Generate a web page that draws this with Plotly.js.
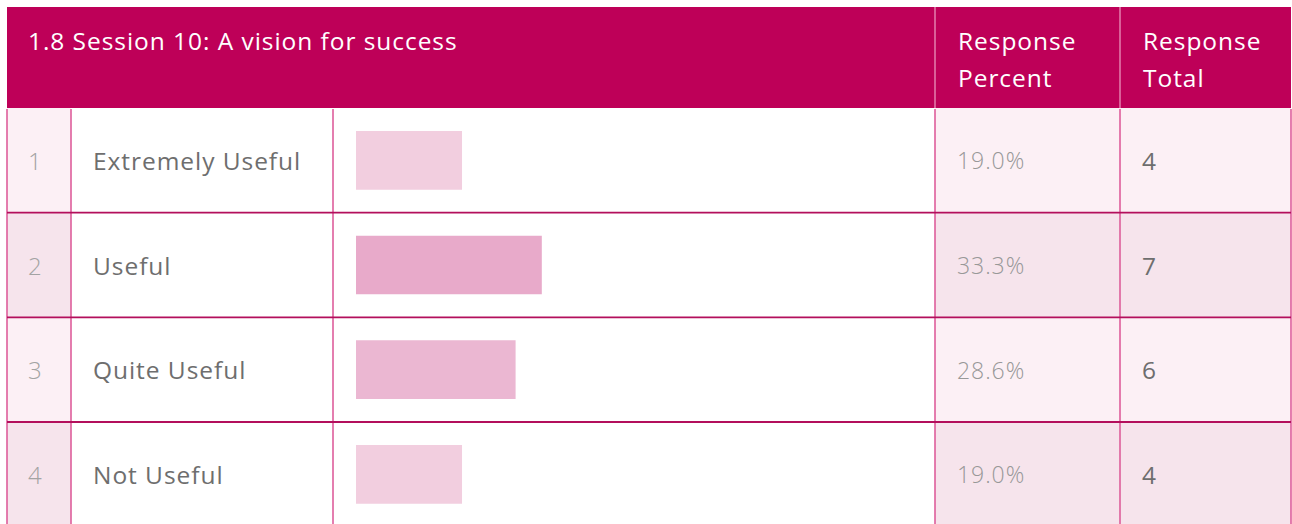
<!DOCTYPE html>
<html>
<head>
<meta charset="utf-8">
<script src="https://cdn.plot.ly/plotly-3.0.1.min.js"></script>
<style>
  html, body { margin: 0; padding: 0; background: #ffffff; }
  #chart { width: 1292px; height: 524px; }
  #chart .annotation-text { letter-spacing: 0.95px; }
</style>
</head>
<body>
<div id="chart"></div>
<script>
// ---- data ----
const title = "1.8 Session 10: A vision for success";
const rowNumbers = ["1", "2", "3", "4"];
const categories = ["Extremely Useful", "Useful", "Quite Useful", "Not Useful"];
const percents = [19.0, 33.3, 28.6, 19.0];
const totals = [4, 7, 6, 4];
const headerPercent = ["Response", "Percent"];
const headerTotal = ["Response", "Total"];
const barColors = ["#F2CEDF", "#E8AACA", "#EBB7D2", "#F2CEDF"];

// ---- layout helpers (pixel -> paper) ----
const W = 1292, H = 524;
const px = p => p / W;
const py = p => 1 - p / H;

const tableLeft = 7, tableRight = 1291;
const headTop = 7, headBottom = 108;
const rowH = 104.67;
const colNumEnd = 71, colLabelEnd = 333, colBarEnd = 935, colPctEnd = 1120;
const barStart = 356, barFull = 914;

const shapes = [];
// header
shapes.push({type: "rect", xref: "paper", yref: "paper", layer: "below",
  x0: px(tableLeft), x1: px(tableRight), y0: py(headTop), y1: py(headBottom),
  fillcolor: "#BE0058", line: {width: 0}});
[colBarEnd, colPctEnd].forEach(x => shapes.push({type: "line", xref: "paper", yref: "paper",
  x0: px(x), x1: px(x), y0: py(headTop), y1: py(headBottom),
  line: {color: "#E37FAE", width: 1.5}}));

// rows
categories.forEach((c, i) => {
  const top = headBottom + i * rowH;
  const bot = top + rowH;
  const fill = (i % 2 === 0) ? "#FCF0F5" : "#F6E4EC";
  shapes.push({type: "rect", xref: "paper", yref: "paper", layer: "below",
    x0: px(tableLeft), x1: px(colNumEnd), y0: py(top), y1: py(bot),
    fillcolor: fill, line: {width: 0}});
  shapes.push({type: "rect", xref: "paper", yref: "paper", layer: "below",
    x0: px(colBarEnd), x1: px(tableRight), y0: py(top), y1: py(bot),
    fillcolor: fill, line: {width: 0}});
});
// vertical grid lines in body
[tableLeft, colNumEnd, colLabelEnd, colBarEnd, colPctEnd, tableRight].forEach(x =>
  shapes.push({type: "line", xref: "paper", yref: "paper",
    x0: px(x), x1: px(x), y0: py(headBottom + 1), y1: py(H + 5),
    line: {color: "#DE5E9B", width: 1.6}}));
// horizontal row separators
categories.forEach((c, i) => {
  const bot = headBottom + (i + 1) * rowH;
  if (bot < H) {
    shapes.push({type: "line", xref: "paper", yref: "paper",
      x0: px(tableLeft), x1: px(tableRight), y0: py(bot), y1: py(bot),
      line: {color: "#B30F5C", width: 1.8}});
  }
});

// ---- annotations ----
const FONT = "'Open Sans', Lato, sans-serif";
const ann = [];
function addText(xPix, yRef, yVal, text, font) {
  ann.push({xref: "paper", yref: yRef, x: px(xPix), y: yVal, xanchor: "left", yanchor: "middle",
    align: "left", text: text, showarrow: false, font: Object.assign({family: FONT}, font)});
}
addText(26, "paper", py(40), title, {size: 24.5, color: "#ffffff"});
headerPercent.forEach((t, k) => addText(956, "paper", py(41 + k * 36), t, {size: 24.5, color: "#ffffff"}));
headerTotal.forEach((t, k) => addText(1141, "paper", py(41 + k * 36), t, {size: 24.5, color: "#ffffff"}));

categories.forEach((c, i) => {
  addText(26, "y", c, rowNumbers[i], {size: 24, weight: 300, color: "#A3A3A3"});
  addText(91, "y", c, c, {size: 24.5, color: "#6E6E6E"});
  addText(955, "y", c, percents[i].toFixed(1) + "%", {size: 23, weight: 300, color: "#989898"});
  addText(1140, "y", c, String(totals[i]), {size: 24.5, color: "#6E6E6E"});
});

// y axis: category rows mapped so that each row is rowH pixels tall
const firstCenter = headBottom + rowH / 2;
const yTop = -firstCenter / rowH;
const yBot = (H - firstCenter) / rowH;

const trace = {
  type: "bar", orientation: "h",
  x: percents, y: categories,
  marker: {color: barColors, line: {width: 0}},
  width: 0.56,
  hoverinfo: "skip",
  showlegend: false
};

const layout = {
  width: W, height: H,
  margin: {l: 0, r: 0, t: 0, b: 0, pad: 0},
  paper_bgcolor: "#ffffff", plot_bgcolor: "rgba(0,0,0,0)",
  xaxis: {domain: [px(barStart), px(barFull)], range: [0, 100], visible: false, fixedrange: true},
  yaxis: {domain: [0, 1], type: "category", range: [yBot, yTop], visible: false, fixedrange: true},
  shapes: shapes,
  annotations: ann,
  showlegend: false
};

Plotly.newPlot("chart", [trace], layout, {displayModeBar: false, staticPlot: true});
</script>
</body>
</html>
